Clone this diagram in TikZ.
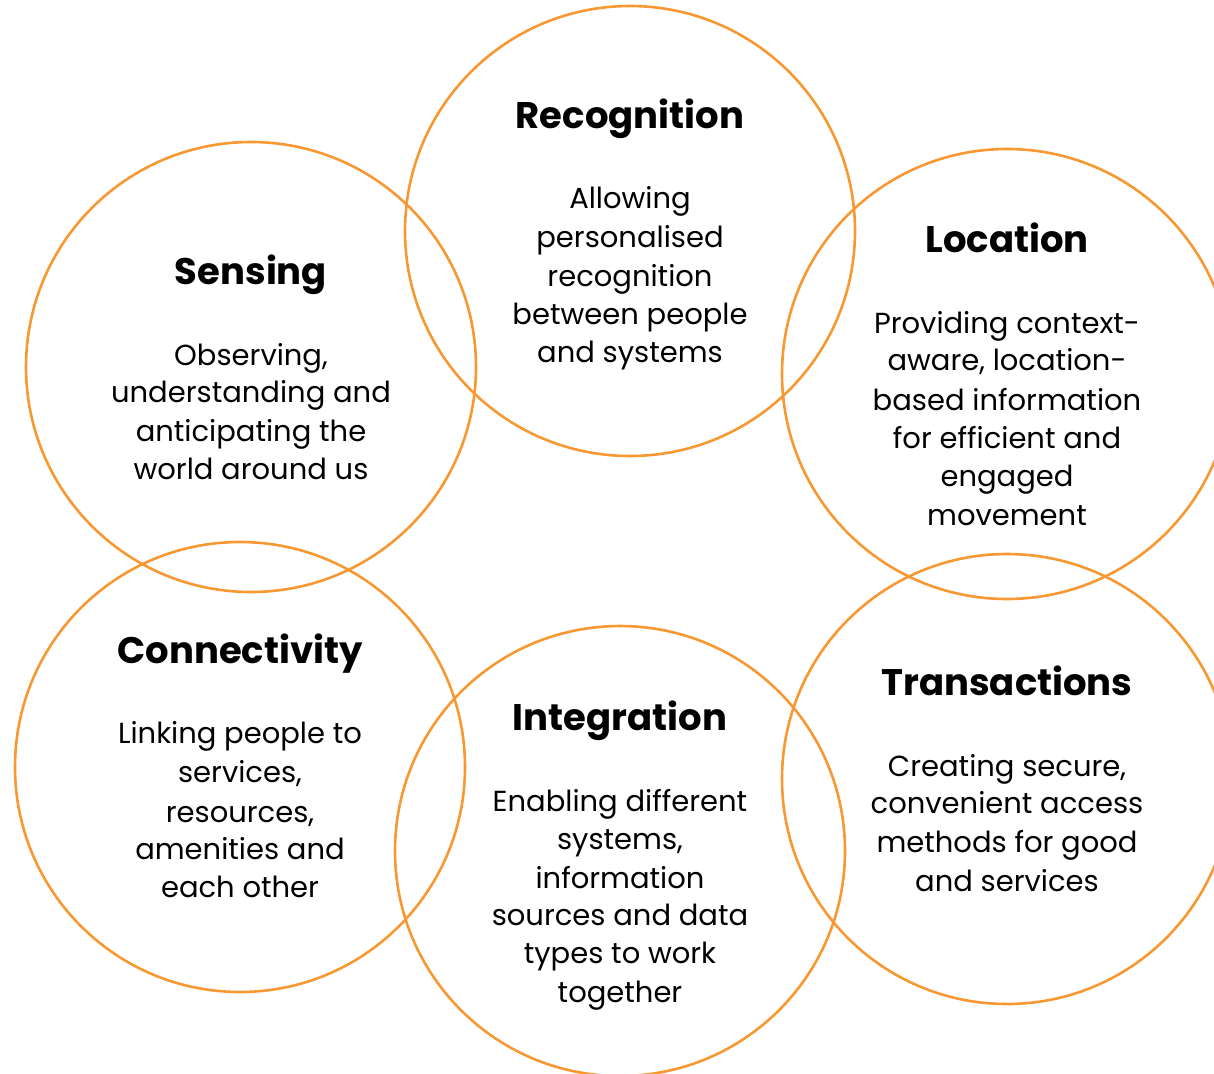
\documentclass[tikz,border=0pt]{standalone}
\usepackage{fontspec}
\setmainfont{Poppins}
\definecolor{ringorange}{RGB}{247,152,50}
\begin{document}
\begin{tikzpicture}[x=1pt,y=-1pt,
  ring/.style={circle,draw=ringorange,line width=2.6pt,minimum size=450pt,inner sep=0pt},
  ttl/.style={anchor=base,font=\fontsize{37}{44}\selectfont\bfseries,inner sep=0pt},
  bdy/.style={anchor=base,font=\fontsize{29}{35}\selectfont,inner sep=0pt}]
\useasboundingbox (0,0) rectangle (1214,1073);
\clip (0,0) rectangle (1214,1073);
% circles
\node[ring] (rec) at (630,231) {};
\node[ring] (sen) at (251,367) {};
\node[ring] (loc) at (1007,374) {};
\node[ring] (con) at (240,767) {};
\node[ring] (int) at (620,851) {};
\node[ring] (tra) at (1007,779) {};
% Recognition
\node[ttl] (rect) at (630,128) {Recognition};
\node[bdy] (rec1) at (630,208) {Allowing};
\node[bdy] (rec2) at (630,247) {personalised};
\node[bdy] (rec3) at (630,286) {recognition};
\node[bdy] (rec4) at (630,324) {between people};
\node[bdy] (rec5) at (630,362) {and systems};
% Sensing
\node[ttl] (sent) at (251,284) {Sensing};
\node[bdy] (sen1) at (251,365) {Observing,};
\node[bdy] (sen2) at (251,402) {understanding and};
\node[bdy] (sen3) at (251,441) {anticipating the};
\node[bdy] (sen4) at (251,479) {world around us};
% Location
\node[ttl] (loct) at (1007,252) {Location};
\node[bdy] (loc1) at (1007,333) {Providing context-};
\node[bdy] (loc2) at (1007,370) {aware, location-};
\node[bdy] (loc3) at (1007,410) {based information};
\node[bdy] (loc4) at (1007,448) {for efficient and};
\node[bdy] (loc5) at (1007,486) {engaged};
\node[bdy] (loc6) at (1007,525) {movement};
% Connectivity
\node[ttl] (cont) at (240,663) {Connectivity};
\node[bdy] (con1) at (240,743) {Linking people to};
\node[bdy] (con2) at (240,782) {services,};
\node[bdy] (con3) at (240,822) {resources,};
\node[bdy] (con4) at (240,859) {amenities and};
\node[bdy] (con5) at (240,897) {each other};
% Integration
\node[ttl] (intt) at (620,730) {Integration};
\node[bdy] (int1) at (620,811) {Enabling different};
\node[bdy] (int2) at (620,849) {systems,};
\node[bdy] (int3) at (620,888) {information};
\node[bdy] (int4) at (620,925) {sources and data};
\node[bdy] (int5) at (620,963) {types to work};
\node[bdy] (int6) at (620,1002) {together};
% Transactions
\node[ttl] (trat) at (1007,695) {Transactions};
\node[bdy] (tra1) at (1007,776) {Creating secure,};
\node[bdy] (tra2) at (1007,813) {convenient access};
\node[bdy] (tra3) at (1007,852) {methods for good};
\node[bdy] (tra4) at (1007,891) {and services};
\end{tikzpicture}
\end{document}
